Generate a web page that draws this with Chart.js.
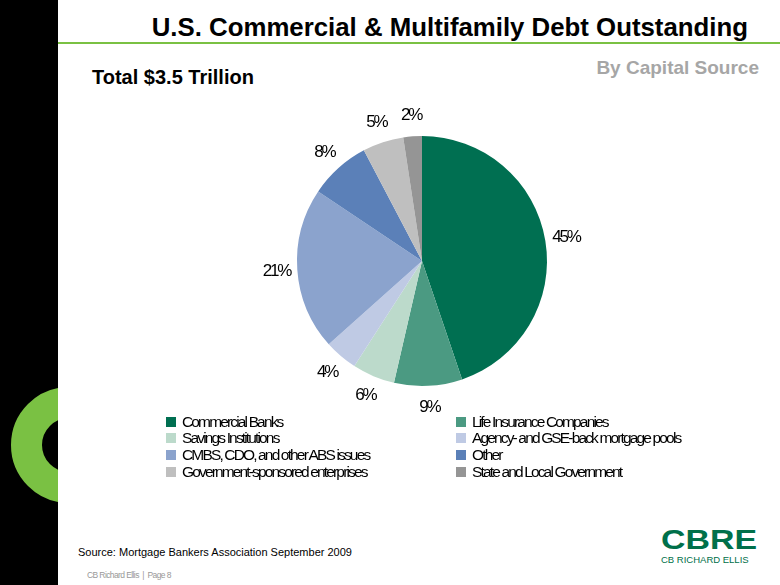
<!DOCTYPE html>
<html>
<head>
<meta charset="utf-8">
<script src="https://cdn.jsdelivr.net/npm/chart.js@4.4.1/dist/chart.umd.min.js"></script>
<style>
  body { margin: 0; background: #fff; font-family: Arial, "Liberation Sans", sans-serif; }
  #slide { position: relative; width: 780px; height: 585px; overflow: hidden; background: #fff; }
  #band { position: absolute; left: 0; top: 0; width: 58px; height: 585px; background: #000; overflow: hidden; }
  #ring { position: absolute; left: 11px; top: 387px; width: 54px; height: 54px; border: 31px solid #7AC143; border-radius: 50%; }
  #rule { position: absolute; left: 58px; right: 0; top: 42px; height: 2px; background: #7AC143; }
  .txt { position: absolute; white-space: nowrap; }
  #title { right: 32px; top: 14px; font-size: 25.8px; line-height: 26px; font-weight: bold; color: #000; }
  #total { left: 92px; top: 67px; font-size: 20px; line-height: 20px; font-weight: bold; color: #000; }
  #bysrc { right: 21px; top: 58px; font-size: 19px; line-height: 19px; font-weight: bold; color: #A6A6A6; }
  #source { left: 78px; top: 547px; font-size: 11px; line-height: 11px; color: #000; }
  #footer { left: 87px; top: 571px; font-size: 8.5px; line-height: 9px; color: #999; letter-spacing: -0.6px; }
  #logo { left: 661px; top: 526px; font-size: 28px; line-height: 28px; font-weight: bold; color: #00704A; transform: scaleX(1.21); transform-origin: left top; }
  #logosub { left: 661px; top: 555px; font-size: 9.5px; line-height: 9.5px; color: #00704A; }
  #chartBox { position: absolute; left: 222px; top: 61px; width: 400px; height: 400px; }
  #legend { position: absolute; left: 166px; top: 414px; width: 560px; display: grid; grid-template-columns: 290px 270px; row-gap: 1.8px; }
  .item { display: flex; align-items: center; height: 15px; font-size: 15.5px; letter-spacing: -1.85px; color: #000; white-space: nowrap; }
  .box { width: 10px; height: 10px; margin-right: 6px; flex: none; }
</style>
</head>
<body>
<div id="slide">
  <div id="band"><div id="ring"></div></div>
  <div id="rule"></div>
  <div class="txt" id="title">U.S. Commercial &amp; Multifamily Debt Outstanding</div>
  <div class="txt" id="total">Total $3.5 Trillion</div>
  <div class="txt" id="bysrc">By Capital Source</div>
  <div id="chartBox"><canvas id="chartDeuda" width="400" height="400"></canvas></div>
  <div id="legend"></div>
  <div class="txt" id="source">Source: Mortgage Bankers Association September 2009</div>
  <div class="txt" id="footer">CB Richard Ellis &nbsp;|&nbsp; Page 8</div>
  <div class="txt" id="logo">CBRE</div>
  <div class="txt" id="logosub">CB RICHARD ELLIS</div>
</div>

<script>
// Datos (porcentaje de la deuda por fuente de capital)
const fuentes = [
    'Commercial Banks',
    'Life Insurance Companies',
    'Savings Institutions',
    'Agency- and GSE-back mortgage pools',
    'CMBS, CDO, and other ABS issues',
    'Other',
    'Government-sponsored enterprises',
    'State and Local Government'
];
const porcentajes = [44.8, 8.8, 5.5, 4.3, 21.0, 7.9, 5.3, 2.4];
const colores = ['#006F51', '#4B9A82', '#BCDACB', '#BFCAE4', '#8BA3CD', '#5B80B8', '#BFBFBF', '#959595'];

// Etiquetas de porcentaje fuera de cada porcion
const etiquetasPct = {
    id: 'etiquetasPct',
    afterDatasetsDraw(chart) {
        const ctx = chart.ctx;
        const meta = chart.getDatasetMeta(0);
        ctx.save();
        ctx.font = '17px Arial, "Liberation Sans", sans-serif';
        ctx.letterSpacing = '-2.2px';
        ctx.fillStyle = '#000';
        ctx.textAlign = 'center';
        ctx.textBaseline = 'middle';
        meta.data.forEach((arc, i) => {
            const p = arc.getProps(['x', 'y', 'startAngle', 'endAngle', 'outerRadius'], true);
            const mid = (p.startAngle + p.endAngle) / 2;
            const r = p.outerRadius + 21;
            const valor = chart.data.datasets[0].data[i];
            ctx.fillText(Math.round(valor) + '%', p.x + Math.cos(mid) * r, p.y + Math.sin(mid) * r);
        });
        ctx.restore();
    }
};

// Leyenda en HTML (dos columnas)
const leyendaHtml = {
    id: 'leyendaHtml',
    afterUpdate(chart) {
        const cont = document.getElementById('legend');
        cont.innerHTML = '';
        const items = chart.options.plugins.legend.labels.generateLabels(chart);
        items.forEach(item => {
            const div = document.createElement('div');
            div.className = 'item';
            div.innerHTML = `<span class="box" style="background:${item.fillStyle}"></span><span>${item.text}</span>`;
            cont.appendChild(div);
        });
    }
};

const ctx = document.getElementById('chartDeuda').getContext('2d');
new Chart(ctx, {
    type: 'pie',
    data: {
        labels: fuentes,
        datasets: [{
            data: porcentajes,
            backgroundColor: colores,
            borderWidth: 0
        }]
    },
    options: {
        responsive: false,
        animation: false,
        layout: { padding: 75 },
        plugins: {
            legend: { display: false },
            tooltip: { enabled: false }
        }
    },
    plugins: [etiquetasPct, leyendaHtml]
});
</script>
</body>
</html>
